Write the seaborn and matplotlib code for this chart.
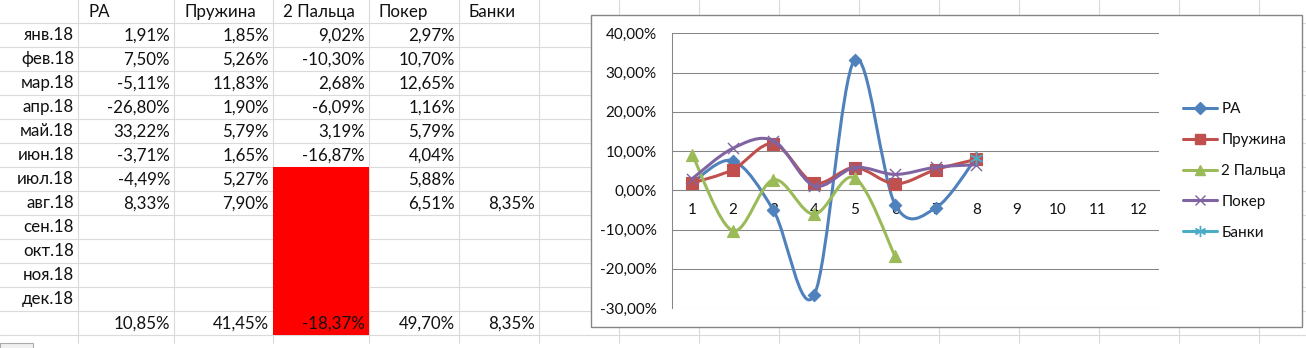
import numpy as np
import matplotlib
matplotlib.use("Agg")
import matplotlib.pyplot as plt
import seaborn as sns
from matplotlib.path import Path
from matplotlib.patches import PathPatch, Rectangle
from matplotlib.lines import Line2D

# ---- data read from the sheet ----
months = ["янв.18", "фев.18", "мар.18", "апр.18", "май.18", "июн.18",
          "июл.18", "авг.18", "сен.18", "окт.18", "ноя.18", "дек.18"]
series_names = ["РА", "Пружина", "2 Пальца", "Покер", "Банки"]
nan = np.nan
ra = [1.91, 7.50, -5.11, -26.80, 33.22, -3.71, -4.49, 8.33, nan, nan, nan, nan]
pruzhina = [1.85, 5.26, 11.83, 1.90, 5.79, 1.65, 5.27, 7.90, nan, nan, nan, nan]
dva_paltsa = [9.02, -10.30, 2.68, -6.09, 3.19, -16.87, nan, nan, nan, nan, nan, nan]
poker = [2.97, 10.70, 12.65, 1.16, 5.79, 4.04, 5.88, 6.51, nan, nan, nan, nan]
banki = [nan, nan, nan, nan, nan, nan, nan, 8.35, nan, nan, nan, nan]
totals = [10.85, 41.45, -18.37, 49.70, 8.35]
periods = list(range(1, 13))

series_values = [ra, pruzhina, dva_paltsa, poker, banki]
colors = ["#4F81BD", "#C0504D", "#9BBB59", "#8064A2", "#4BACC6"]
markers = ["D", "s", "^", "x", (6, 2, 0)]
marker_sizes = [40, 64, 75, 64, 80]

sns.set_style("white")
plt.rcParams["font.family"] = ["Lato", "DejaVu Sans"]


def pct(v):
    return f"{v:.2f}%".replace(".", ",")


def smooth_path(xs, ys):
    # Excel style smoothed line: cubic Bezier through every point
    pts = np.column_stack([xs, ys]).astype(float)
    n = len(pts)
    verts = [pts[0]]
    codes = [Path.MOVETO]
    for i in range(n - 1):
        p0 = pts[max(i - 1, 0)]
        p1 = pts[i]
        p2 = pts[i + 1]
        p3 = pts[min(i + 2, n - 1)]
        verts += [p1 + (p2 - p0) / 6, p2 - (p3 - p1) / 6, p2]
        codes += [Path.CURVE4] * 3
    return Path(verts, codes)


fig = plt.figure(figsize=(13.06, 3.48), dpi=100)

# ---- spreadsheet background ----
sheet = fig.add_axes([0, 0, 1, 1])
sheet.set_xlim(0, 1306)
sheet.set_ylim(348, 0)
sheet.axis("off")

grid_c = "#DADADA"
col_edges = [0, 78, 174, 273, 369, 459, 539, 619, 699, 779, 859, 939, 1019, 1099, 1179, 1259]
row_top, row_h = 22.7, 24
for x in col_edges[1:]:
    sheet.plot([x, x], [0, 343], color=grid_c, lw=0.8, zorder=1)
for k in range(14):
    y = row_top + k * row_h
    sheet.plot([0, 1306], [y, y], color=grid_c, lw=0.8, zorder=1)

# red block in the "2 Пальца" column
sheet.add_patch(Rectangle((273, row_top + 6 * row_h), 96, 7 * row_h,
                          facecolor="#FF0000", edgecolor="none", zorder=2))
sheet.add_patch(Rectangle((0, 343), 33, 6, facecolor="#F0F0F0",
                          edgecolor="#ABABAB", lw=0.8, zorder=2))

fs_sheet = 12.2
txt_c = "#111111"
for j, name in enumerate(series_names):
    sheet.text(col_edges[j + 1] + 10, 12, name, ha="left", va="center",
               fontsize=fs_sheet, color=txt_c, zorder=3)
for i, m in enumerate(months):
    yc = row_top + (i + 0.5) * row_h + 0.5
    sheet.text(col_edges[1] - 4, yc, m, ha="right", va="center", fontsize=fs_sheet,
               color=txt_c, zorder=3)
    for j, vals in enumerate(series_values):
        v = vals[i]
        if not np.isnan(v):
            sheet.text(col_edges[j + 2] - 4, yc, pct(v), ha="right", va="center",
                       fontsize=fs_sheet, color=txt_c, zorder=3)
yc = row_top + 12.5 * row_h + 0.5
for j, v in enumerate(totals):
    sheet.text(col_edges[j + 2] - 4, yc, pct(v), ha="right", va="center",
               fontsize=fs_sheet, color=txt_c, zorder=3)

# chart area frame
sheet.add_patch(Rectangle((591, 15), 711, 312, facecolor="white",
                          edgecolor="#868686", lw=1, zorder=4))

# ---- chart ----
fs_chart = 11.0
ax = fig.add_axes([672 / 1306, 40 / 348, 487 / 1306, 274.7 / 348])
ax.patch.set_visible(False)
ax.set_xlim(0.5, 12.5)
ax.set_ylim(-30, 40)

axis_c = "#868686"
yticks = list(range(-30, 41, 10))
ax.set_yticks(yticks)
ax.set_yticklabels([pct(v) for v in yticks])
ax.yaxis.grid(True, color=axis_c, lw=0.75)
ax.set_axisbelow(True)
for s in ["top", "right"]:
    ax.spines[s].set_visible(False)
ax.spines["left"].set_color(axis_c)
ax.spines["left"].set_linewidth(0.75)
ax.spines["bottom"].set_position(("data", 0))
ax.spines["bottom"].set_color(axis_c)
ax.spines["bottom"].set_linewidth(0.75)

ax.set_xticks(periods)
ax.set_xticklabels([str(p) for p in periods])
ax.set_xticks(np.arange(0.5, 12.6, 1), minor=True)
ax.tick_params(axis="x", which="major", length=0, pad=9, labelsize=fs_chart,
               labelcolor=txt_c)
ax.tick_params(axis="x", which="minor", length=3.6, width=0.75, color=axis_c, direction="out")
ax.tick_params(axis="y", length=5, width=0.75, color=axis_c, pad=6, labelsize=fs_chart,
               labelcolor=txt_c)

handles = []
for k, (name, vals) in enumerate(zip(series_names, series_values)):
    vals = np.asarray(vals, dtype=float)
    ok = ~np.isnan(vals)
    xs = np.asarray(periods)[ok]
    ys = vals[ok]
    if len(xs) > 1:
        ax.add_patch(PathPatch(smooth_path(xs, ys), fill=False, edgecolor=colors[k],
                               lw=2.2, capstyle="round", joinstyle="round",
                               zorder=3 + 2 * k))
    filled = k < 3
    if filled:
        sns.scatterplot(x=xs, y=ys, ax=ax, marker=markers[k], s=marker_sizes[k],
                        color=colors[k], edgecolor=colors[k], linewidth=0.8,
                        zorder=4 + 2 * k, clip_on=False)
    else:
        sns.scatterplot(x=xs, y=ys, ax=ax, marker=markers[k], s=marker_sizes[k],
                        color=colors[k], linewidth=1, zorder=4 + 2 * k, clip_on=False)
    handles.append(Line2D([], [], color=colors[k], lw=2.2, marker=markers[k],
                          markersize=np.sqrt(marker_sizes[k]) * 0.9, markerfacecolor=colors[k],
                          markeredgecolor=colors[k], markeredgewidth=1, label=name))

fig.legend(handles=handles, loc="center left", bbox_to_anchor=(1183 / 1306, 1 - 171 / 348),
           frameon=False, fontsize=fs_chart, handlelength=2.25, handletextpad=0.26,
           labelspacing=1.1, borderpad=0, borderaxespad=0, labelcolor=txt_c)

fig.savefig("out.png", dpi=100)
